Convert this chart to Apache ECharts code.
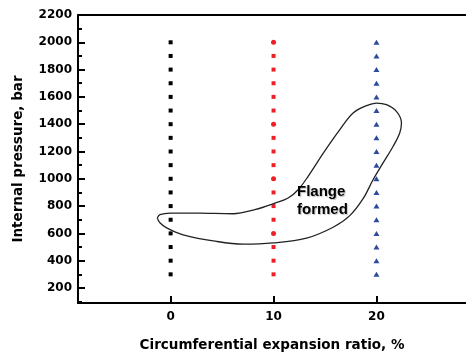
<!DOCTYPE html>
<html>
<head>
<meta charset="utf-8">
<script src="https://cdn.jsdelivr.net/npm/echarts@6/dist/echarts.min.js"></script>
<style>
  html, body { margin: 0; padding: 0; background: #fff; }
  #chart { width: 466px; height: 358px; }
</style>
</head>
<body>
<div id="chart"></div>
<script>
// measured pressures at each expansion ratio (bar)
const pressures = [300, 400, 500, 600, 700, 800, 900, 1000, 1100, 1200, 1300, 1400, 1500, 1600, 1700, 1800, 1900, 2000];
const ratioBlack = 0;
const ratioRed = 10;
const ratioBlue = 20;
// red points drawn as dots instead of squares
const redDots = [600, 1000, 1400, 2000];

// closed loop around the "flange formed" region
const loopX = [-1.3, -1.04, -0.07, 2.84, 6.08, 8.18, 10.2, 11.42, 12.39, 13.36, 14.9, 16.44, 17.73, 19.03, 20.0, 20.97, 21.94, 22.43, 22.26, 21.61, 20.64, 19.67, 18.7, 17.41, 15.79, 13.2, 9.96, 7.05, 4.47, 1.22, -0.39, -1.04, -1.3];
const loopY = [713, 737, 749, 748, 744, 774, 823, 859, 920, 1018, 1195, 1360, 1482, 1536, 1555, 1543, 1494, 1409, 1336, 1237, 1116, 993, 854, 730, 645, 565, 530, 521, 541, 590, 640, 678, 713];

// axis labels
const xLabels = [0, 10, 20];
const yLabels = [200, 400, 600, 800, 1000, 1200, 1400, 1600, 1800, 2000, 2200];
const yMinorTicks = [100, 300, 500, 700, 900, 1100, 1300, 1500, 1700, 1900, 2100];

const chart = echarts.init(document.getElementById('chart'));

const labelFont = { fontFamily: 'DejaVu Sans', fontWeight: 'bold', fontSize: 12, color: '#000' };
const xMin = -9, xMax = 28.7, yMin = 90, yMax = 2200;

const option = {
  animation: false,
  backgroundColor: '#fff',
  grid: { left: 78, right: 0, top: 15, bottom: 55 },
  xAxis: [{
    type: 'value', min: xMin, max: xMax,
    name: 'Circumferential expansion ratio, %',
    nameLocation: 'middle', nameGap: 35,
    nameTextStyle: { fontFamily: 'DejaVu Sans', fontWeight: 'bold', fontSize: 13.5, color: '#000' },
    axisLine: { onZero: false, lineStyle: { color: '#000', width: 2 } },
    axisTick: { inside: true, length: 7, lineStyle: { color: '#000', width: 2 }, customValues: xLabels },
    axisLabel: Object.assign({ margin: 8, customValues: xLabels, formatter: v => String(v) }, labelFont),
    splitLine: { show: false }
  }, {
    type: 'value', min: xMin, max: xMax, position: 'top',
    axisLine: { onZero: false, lineStyle: { color: '#000', width: 2 } },
    axisTick: { show: false }, axisLabel: { show: false }, splitLine: { show: false }
  }],
  yAxis: [{
    type: 'value', min: yMin, max: yMax,
    name: 'Internal pressure, bar',
    nameLocation: 'middle', nameGap: 53,
    nameTextStyle: { fontFamily: 'DejaVu Sans', fontWeight: 'bold', fontSize: 13.5, color: '#000' },
    axisLine: { show: true, onZero: false, lineStyle: { color: '#000', width: 2 } },
    axisTick: { show: true, inside: true, length: 7, lineStyle: { color: '#000', width: 2 }, customValues: yLabels },
    axisLabel: Object.assign({ margin: 6, customValues: yLabels, formatter: v => String(v) }, labelFont),
    splitLine: { show: false }
  }, {
    type: 'value', min: yMin, max: yMax, position: 'left', offset: 0,
    axisLine: { show: false, onZero: false },
    axisTick: { show: true, inside: true, length: 4, lineStyle: { color: '#000', width: 2 }, customValues: yMinorTicks },
    axisLabel: { show: false }, splitLine: { show: false }
  }],
  graphic: [{
    type: 'text', left: 297, top: 183,
    style: {
      text: 'Flange\nformed', fill: '#000',
      font: 'bold 15px "Liberation Sans"', lineHeight: 18, align: 'center',
      textShadowColor: 'rgba(0,0,0,0.25)', textShadowBlur: 1, textShadowOffsetX: 1, textShadowOffsetY: 1
    },
    z: 10
  }],
  series: [{
    type: 'scatter', symbol: 'rect', symbolSize: 4,
    itemStyle: { color: '#000', opacity: 1 },
    data: pressures.map(p => [ratioBlack, p])
  }, {
    type: 'scatter', symbol: 'rect', symbolSize: 4,
    itemStyle: { color: '#ee2027', opacity: 1 },
    data: pressures.map(p => redDots.includes(p)
      ? { value: [ratioRed, p], symbol: 'circle', symbolSize: 5 }
      : [ratioRed, p])
  }, {
    type: 'scatter', symbol: 'triangle', symbolSize: [6, 5],
    itemStyle: { color: '#2d4a9c', opacity: 1 },
    data: pressures.map(p => [ratioBlue, p])
  }, {
    type: 'line', smooth: 0.35, symbol: 'none',
    lineStyle: { color: '#222', width: 1.3 },
    data: loopX.map((x, i) => [x, loopY[i]]),
    z: 5
  }]
};

chart.setOption(option);
</script>
</body>
</html>
